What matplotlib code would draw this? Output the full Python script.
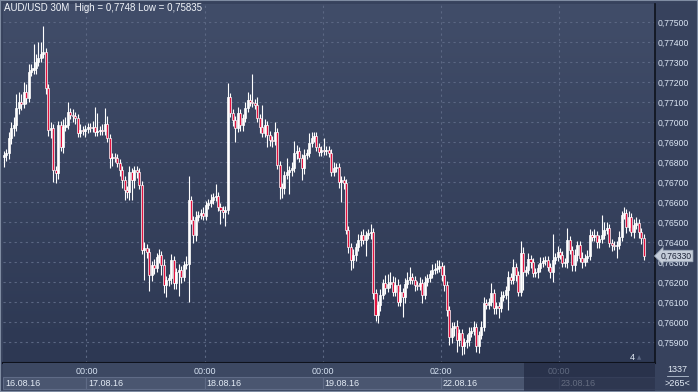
import numpy as np
import matplotlib
matplotlib.use("Agg")
import matplotlib.pyplot as plt
from matplotlib.colors import LinearSegmentedColormap
from matplotlib.patches import Rectangle

plt.rcParams["font.family"] = ["Liberation Sans", "DejaVu Sans"]

# AUD/USD 30 minute candles, 16.08.16 - 23.08.16
first_open = 0.76825
closes = [
    0.76835, 0.76845, 0.76920, 0.76970, 0.76985, 0.77070, 0.77100, 0.77090, 0.77150, 0.77120,
    0.77250, 0.77260, 0.77270, 0.77300, 0.77320, 0.77340, 0.77350, 0.77170, 0.76960, 0.76970,
    0.76760, 0.76745, 0.76985, 0.76875, 0.76975, 0.76985, 0.77050, 0.77035, 0.77030, 0.77020,
    0.76945, 0.76960, 0.76955, 0.76965, 0.76975, 0.76970, 0.76975, 0.76950, 0.76955, 0.76960,
    0.76955, 0.76990, 0.76920, 0.76820, 0.76825, 0.76820, 0.76795, 0.76760, 0.76710, 0.76660,
    0.76650, 0.76750, 0.76710, 0.76760, 0.76750, 0.76685, 0.76360, 0.76370, 0.76350, 0.76235,
    0.76285, 0.76270, 0.76325, 0.76335, 0.76285, 0.76185, 0.76210, 0.76220, 0.76310, 0.76195,
    0.76250, 0.76260, 0.76225, 0.76285, 0.76290, 0.76610, 0.76510, 0.76435, 0.76525, 0.76535,
    0.76545, 0.76530, 0.76585, 0.76595, 0.76610, 0.76625, 0.76630, 0.76575, 0.76560, 0.76550,
    0.76560, 0.77125, 0.77045, 0.77010, 0.76970, 0.77045, 0.76985, 0.77020, 0.77070, 0.77110,
    0.77100, 0.77095, 0.77085, 0.77020, 0.76975, 0.76945, 0.76985, 0.76935, 0.76910, 0.76905,
    0.76950, 0.76785, 0.76675, 0.76670, 0.76735, 0.76750, 0.76760, 0.76770, 0.76845, 0.76855,
    0.76820, 0.76770, 0.76835, 0.76845, 0.76895, 0.76920, 0.76930, 0.76875, 0.76850, 0.76860,
    0.76855, 0.76860, 0.76845, 0.76750, 0.76770, 0.76775, 0.76700, 0.76710, 0.76695, 0.76460,
    0.76375, 0.76310, 0.76335, 0.76375, 0.76410, 0.76435, 0.76410, 0.76435, 0.76445, 0.76450,
    0.76145, 0.76035, 0.76085, 0.76135, 0.76195, 0.76170, 0.76190, 0.76200, 0.76150, 0.76185,
    0.76100, 0.76150, 0.76125, 0.76190, 0.76210, 0.76225, 0.76210, 0.76185, 0.76180, 0.76195,
    0.76135, 0.76200, 0.76220, 0.76240, 0.76260, 0.76265, 0.76270, 0.76280, 0.76235, 0.76185,
    0.76060, 0.75925, 0.75970, 0.75980, 0.75910, 0.75945, 0.75880, 0.75900, 0.75910, 0.75945,
    0.75955, 0.75975, 0.75880, 0.75935, 0.75975, 0.76095, 0.76085, 0.76100, 0.76145, 0.76070,
    0.76080, 0.76070, 0.76125, 0.76135, 0.76160, 0.76225, 0.76210, 0.76275, 0.76235, 0.76150,
    0.76345, 0.76250, 0.76260, 0.76315, 0.76300, 0.76245, 0.76250, 0.76270, 0.76295, 0.76305,
    0.76310, 0.76275, 0.76250, 0.76310, 0.76325, 0.76350, 0.76335, 0.76295, 0.76300, 0.76410,
    0.76360, 0.76285, 0.76335, 0.76385, 0.76320, 0.76300, 0.76320, 0.76330, 0.76435, 0.76425,
    0.76435, 0.76400, 0.76415, 0.76435, 0.76460, 0.76470, 0.76395, 0.76385, 0.76380, 0.76385,
    0.76425, 0.76535, 0.76545, 0.76475, 0.76525, 0.76450, 0.76485, 0.76495, 0.76450, 0.76420,
    0.76330,
]

# wick lengths above / below the body, in pips
upper_wick = [
    2, 2, 3, 3, 4, 7, 5, 4, 5, 4,   4, 3, 12, 4, 8, 6, 13, 2, 2, 3,
    2, 2, 2, 2, 4, 4, 5, 2, 3, 2,   2, 3, 2, 2, 2, 2, 3, 10, 9, 2,
    3, 8, 4, 2, 2, 2, 2, 2, 2, 2,   2, 3, 2, 2, 2, 2, 2, 3, 2, 2,
    2, 3, 2, 3, 2, 3, 2, 2, 3, 2,   2, 3, 2, 2, 4, 12, 2, 2, 3, 2,
    2, 3, 2, 2, 3, 2, 6, 2, 2, 2,   2, 7, 2, 2, 2, 3, 2, 2, 3, 4,
    3, 14, 2, 4, 2, 11, 3, 2, 2, 2, 5, 2, 2, 2, 2, 7, 2, 3, 6, 3,
    2, 2, 3, 2, 5, 3, 2, 2, 2, 2,   6, 2, 2, 2, 3, 2, 2, 2, 2, 2,
    2, 2, 3, 2, 3, 2, 3, 2, 2, 4,   2, 2, 2, 3, 2, 4, 5, 5, 3, 4,
    3, 4, 2, 3, 4, 5, 2, 2, 2, 3,   2, 3, 2, 2, 3, 3, 4, 3, 2, 5,
    2, 2, 3, 2, 3, 2, 2, 2, 3, 3,   2, 3, 2, 2, 3, 3, 2, 2, 5, 2,
    2, 2, 3, 2, 2, 3, 2, 4, 2, 2,   6, 3, 2, 3, 2, 2, 2, 2, 3, 2,
    2, 2, 2, 13, 2, 3, 2, 2, 2, 6,  2, 2, 3, 2, 2, 3, 2, 3, 3, 2,
    3, 2, 2, 10, 4, 3, 2, 2, 2, 2,  3, 2, 3, 2, 3, 2, 3, 3, 2, 2, 2,
]
lower_wick = [
    5, 3, 3, 3, 4, 3, 3, 3, 2, 3,   2, 2, 2, 3, 2, 2, 2, 3, 3, 4,
    6, 5, 3, 2, 3, 2, 2, 2, 3, 3,   2, 2, 2, 3, 2, 2, 2, 2, 2, 2,
    2, 2, 2, 5, 4, 2, 2, 3, 4, 5,   3, 4, 10, 4, 3, 2, 2, 15, 3, 8,
    3, 3, 2, 3, 5, 4, 6, 3, 3, 3,   3, 12, 3, 2, 2, 19, 2, 4, 3, 2,
    2, 2, 2, 2, 2, 2, 2, 2, 7, 3,   7, 2, 2, 3, 7, 2, 3, 3, 2, 2,
    2, 2, 2, 2, 3, 2, 2, 6, 3, 3,   2, 2, 6, 5, 3, 2, 11, 3, 2, 3,
    2, 6, 3, 2, 2, 2, 2, 2, 2, 2,   2, 2, 2, 2, 2, 2, 3, 10, 3, 2,
    3, 5, 4, 3, 2, 3, 2, 8, 2, 3,   3, 3, 4, 3, 2, 3, 2, 2, 2, 2,
    2, 2, 10, 3, 2, 2, 2, 3, 2, 2,  4, 2, 2, 2, 2, 2, 2, 2, 3, 3,
    3, 4, 3, 4, 6, 3, 4.5, 4, 3, 3, 2, 2, 3, 3.5, 2, 2, 2, 2, 2, 3,
    3, 5, 2, 2, 2, 10, 2, 2, 3, 2,  2, 9, 2, 2, 3, 2, 2, 3, 2, 2,
    2, 2, 3, 5, 2, 2, 2, 2, 2, 3,   2, 3, 3, 3, 2, 3, 2, 2, 2, 2,
    2, 3, 3, 2, 2, 2, 2, 3, 2, 6,   2, 2, 2, 3, 2, 2, 3, 2, 3, 3, 2,
]

price_ticks = [0.759, 0.760, 0.761, 0.762, 0.763, 0.764, 0.765, 0.766, 0.767,
               0.768, 0.769, 0.770, 0.771, 0.772, 0.773, 0.774, 0.775]
time_idx = [34, 82, 130, 178, 226]
time_labels = ["00:00", "00:00", "00:00", "02:00", "00:00"]
day_idx = [0, 34, 82, 130, 178, 226]
date_labels = ["16.08.16", "17.08.16", "18.08.16", "19.08.16", "22.08.16", "23.08.16"]
last_price = 0.76330

closes = np.array(closes)
opens = np.concatenate([[first_open], closes[:-1]])
highs = np.maximum(opens, closes) + np.array(upper_wick) * 0.0001
lows = np.minimum(opens, closes) - np.array(lower_wick) * 0.0001
idx = np.arange(len(closes))
up = closes >= opens

W, H = 698, 392
fig = plt.figure(figsize=(W / 100, H / 100), dpi=100, facecolor="#37425d")
ax = fig.add_axes([3 / W, 29 / H, 652 / W, 359 / H])

xlim = (-0.4, 264.6)
ylim = (0.75795, 0.7759)
ax.set_xlim(xlim)
ax.set_ylim(ylim)

bg = LinearSegmentedColormap.from_list("bg", ["#2d3853", "#414d69"])
ax.imshow(np.linspace(0, 1, 256).reshape(-1, 1), cmap=bg, aspect="auto",
          origin="lower", extent=[xlim[0], xlim[1], ylim[0], ylim[1]], zorder=0)

# grid
for p in price_ticks:
    ax.axhline(p, color="#5b6783", lw=0.8, ls=(0, (2, 3)), zorder=1)
for t in time_idx:
    ax.axvline(t - 0.5, color="#5b6783", lw=0.8, ls=(0, (2, 3)), zorder=1)

# candles
ax.vlines(idx, lows, highs, color="white", lw=0.8, zorder=2)
body_h = np.maximum(np.abs(closes - opens), 0.00002)
ax.bar(idx, body_h, bottom=np.minimum(opens, closes), width=0.82,
       color=np.where(up, "white", "#e3123f"), edgecolor="white", linewidth=0.5, zorder=3)

# axes styling
for s in ["top", "left"]:
    ax.spines[s].set_visible(False)
ax.spines["right"].set_color("#0e121c")
ax.spines["bottom"].set_color("#0e121c")
ax.spines["right"].set_linewidth(1.2)
ax.spines["bottom"].set_linewidth(1.5)
ax.set_xticks([])
ax.yaxis.tick_right()
ax.set_yticks(price_ticks)
ax.set_yticklabels([f"{p:.5f}".replace(".", ",") for p in price_ticks])
ax.tick_params(axis="y", length=0, pad=2, labelsize=6.2, labelcolor="#dce6f4")

ax.text(0.0015, 0.989, "AUD/USD 30M  High = 0,7748 Low = 0,75835", transform=ax.transAxes,
        ha="left", va="center", fontsize=7, color="#f2f5fa", zorder=5)

ax.annotate(f"{last_price:.5f}".replace(".", ","), xy=(1.0, last_price),
            xycoords=("axes fraction", "data"), xytext=(4, 0), textcoords="offset points",
            ha="left", va="center", fontsize=6.2, color="#1b2236", annotation_clip=False,
            bbox=dict(boxstyle="larrow,pad=0.15", fc="#c5cdd9", ec="#98a4b6", lw=0.5), zorder=6)

# bottom time axis panel
bx = fig.add_axes([3 / W, 0, 652 / W, 29 / H], facecolor="#3c4862")
bx.set_xlim(xlim)
bx.set_ylim(0, 29)
bx.axis("off")
bx.add_patch(Rectangle((xlim[0], 0), xlim[1] - xlim[0], 29, fc="#3c4862", ec="none", zorder=0))
edges = day_idx + [xlim[1] + 0.5]
for k, lab in enumerate(date_labels):
    x0 = max(edges[k] - 0.5, xlim[0])
    x1 = edges[k + 1] - 0.5
    bx.add_patch(Rectangle((x0, 3), x1 - x0, 12, fc="#4a5670", ec="#5f6b86", lw=0.8, zorder=1))
    bx.text(x0 + 0.9, 9, lab, ha="left", va="center", fontsize=6.5, color="#e4ecf6", zorder=2)
for t, lab in zip(time_idx, time_labels):
    bx.text(t - 0.5, 21, lab, ha="center", va="center", fontsize=6.5, color="#d6e2f2", zorder=2)
bx.add_patch(Rectangle((211.4, 0), xlim[1] - 211.4, 29, fc="#1f2740", alpha=0.65, ec="none", zorder=3))

# right bottom box
fig.text(677 / W, 1 - 369 / H, "1337", ha="center", va="center", fontsize=6.5, color="#e4ecf6")
fig.add_artist(plt.Line2D([667 / W, 688 / W], [1 - 376 / H, 1 - 376 / H], color="#b8c4d4", lw=0.6))
fig.text(677 / W, 1 - 384 / H, ">265<", ha="center", va="center", fontsize=6.5, color="#e4ecf6")
fig.text(632 / W, 1 - 357 / H, "4", ha="center", va="center", fontsize=6.5, color="#e4ecf6")
fig.text(639 / W, 1 - 358 / H, "\u25b2", ha="center", va="center", fontsize=4, color="#5b6783",
         family="DejaVu Sans")

fig.add_artist(Rectangle((0, 0), 1, 1, transform=fig.transFigure, fill=False,
                         ec="#7f8ca2", lw=1.5))

fig.savefig("out.png", dpi=100, facecolor=fig.get_facecolor())
